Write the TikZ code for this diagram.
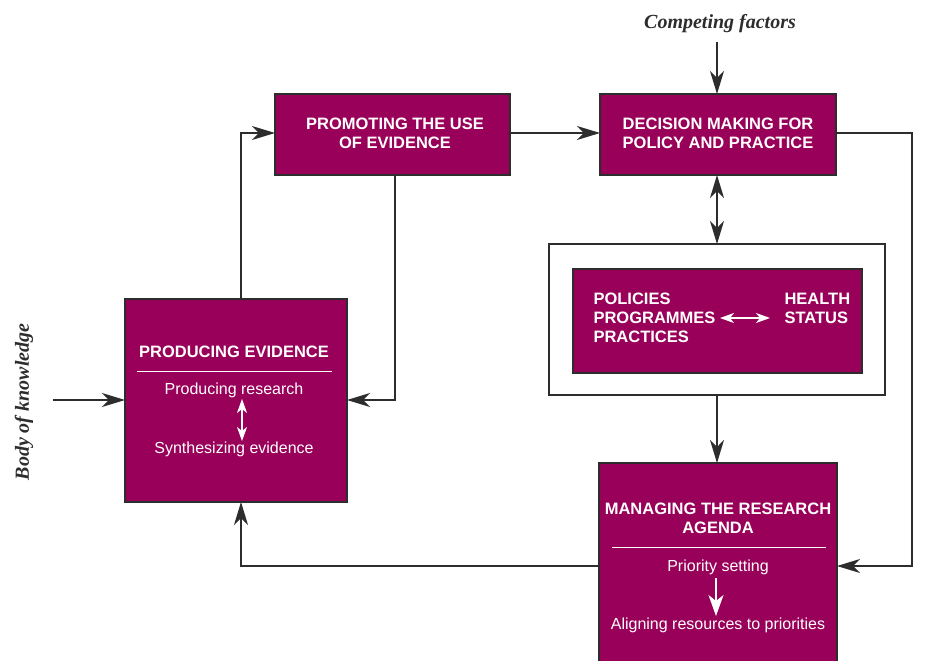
\documentclass[tikz,border=0pt]{standalone}
\usepackage{fontspec}
\setmainfont{Liberation Sans}
\newfontfamily\serifit{Liberation Serif}
\usetikzlibrary{arrows.meta}
\definecolor{plum}{RGB}{153,0,89}
\definecolor{edge}{RGB}{45,45,45}
\begin{document}
\begin{tikzpicture}[x=1pt,y=-1pt,
  tip/.tip={Stealth[length=23pt,width=14pt,inset=7pt]},
  wtip/.tip={Stealth[length=14pt,width=10pt,inset=4pt]},
  bigwtip/.tip={Stealth[length=21pt,width=15pt,inset=6pt]},
  box/.style={draw=edge,line width=1.3pt,fill=plum,inner sep=0pt},
  conn/.style={draw=edge,line width=1.3pt,-tip},
  dconn/.style={draw=edge,line width=1.3pt,tip-tip},
  wt/.style={text=white,font=\fontsize{16.5}{19}\selectfont\bfseries,align=center},
  wl/.style={text=white,font=\fontsize{16}{18}\selectfont,align=center},
  warr/.style={draw=white,line width=1.2pt,-bigwtip},
  wdarr/.style={draw=white,line width=1.2pt,wtip-wtip},
  lab/.style={text=edge,font=\serifit\fontsize{20}{22}\selectfont\bfseries\itshape}]
\useasboundingbox (0,0) rectangle (929,661);
% boxes
\path[box] (275,94) rectangle (510,175);
\node (prom) [wt] at (395,133) {PROMOTING THE USE\\OF EVIDENCE};
\path[box] (600,94) rectangle (836,175);
\node (dec) [wt] at (718,133) {DECISION MAKING FOR\\POLICY AND PRACTICE};
\draw[edge,line width=1.3pt,fill=white] (549,244) rectangle (885,395);
\path[box] (573,269) rectangle (862,373);
\node (pol) [wt,align=left,anchor=west] at (590,318) {POLICIES\\PROGRAMMES\\PRACTICES};
\node (hs) [wt,align=left,anchor=west] at (781,308.5) {HEALTH\\STATUS};
\path[box] (125,299) rectangle (347,502);
\node (pe) [wt] at (234,352) {PRODUCING EVIDENCE};
\draw[white,line width=1pt] (137,371) -- (332,371);
\node (pr) [wl] at (234,390) {Producing research};
\node (se) [wl] at (234,449) {Synthesizing evidence};
\path[box] (599,463) rectangle (837,668);
\node (mra) [wt] at (718,518) {MANAGING THE RESEARCH\\AGENDA};
\draw[white,line width=1pt] (612,547) -- (826,547);
\node (ps) [wl] at (718,567) {Priority setting};
\node (al) [wl] at (718,625) {Aligning resources to priorities};
% internal arrows
\coordinate (pa1) at (242,399);
\coordinate (pa2) at (242,441);
\draw[wdarr] (pa1) -- (pa2);
\coordinate (ma1) at (716,578);
\coordinate (ma2) at (716,616);
\draw[warr] (ma1) -- (ma2);
\coordinate (ha1) at (720,318);
\coordinate (ha2) at (770,318);
\draw[wdarr] (ha1) -- (ha2);
% labels
\node (cf) [lab] at (720,24) {Competing factors};
\node (bk) [lab,rotate=90] at (24,402) {Body of knowledge};
% connectors
\coordinate (bks) at (53,400);
\coordinate (cfs) at (717,42);
\draw[conn] (bks) -- (125,400);
\draw[conn] (cfs) -- (717,94);
\draw[conn] (510,133) -- (600,133);
\draw[conn] (241,299) -- (241,133) -- (275,133);
\draw[conn] (395,175) -- (395,400) -- (347,400);
\draw[dconn] (717,175) -- (717,244);
\draw[conn] (717,395) -- (717,463);
\draw[conn] (836,133) -- (912,133) -- (912,566) -- (837,566);
\draw[conn] (599,566) -- (241,566) -- (241,502);
\end{tikzpicture}
\end{document}
